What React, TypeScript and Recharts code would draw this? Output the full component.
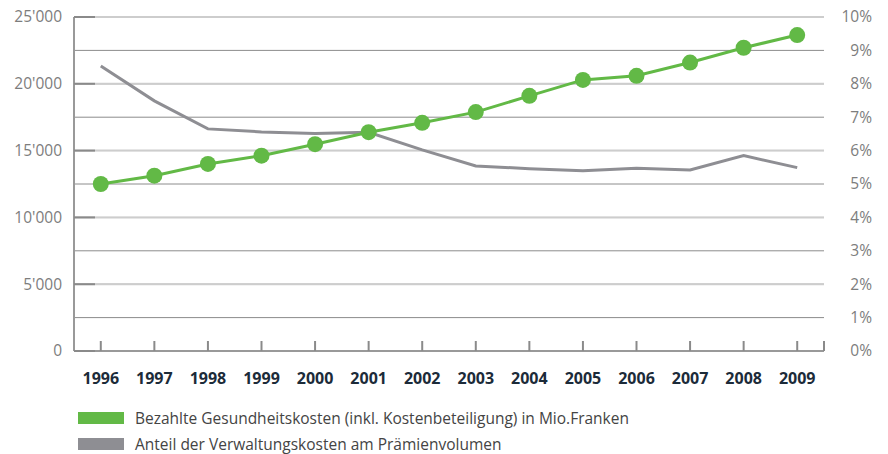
import React from 'react';
import { LineChart, Line, XAxis, YAxis, CartesianGrid } from 'recharts';

const years = ['1996', '1997', '1998', '1999', '2000', '2001', '2002', '2003', '2004', '2005', '2006', '2007', '2008', '2009'];
const healthCosts = [12500, 13120, 14000, 14620, 15480, 16380, 17080, 17880, 19100, 20290, 20600, 21590, 22700, 23650];
const adminShare = [8.53, 7.49, 6.65, 6.56, 6.51, 6.55, 6.02, 5.54, 5.46, 5.40, 5.47, 5.42, 5.85, 5.49];
const leftTicks = [0, 5000, 10000, 15000, 20000, 25000];
const rightTicks = [0, 1, 2, 3, 4, 5, 6, 7, 8, 9, 10];
const legendLabels = [
  'Bezahlte Gesundheitskosten (inkl. Kostenbeteiligung) in Mio.Franken',
  'Anteil der Verwaltungskosten am Prämienvolumen',
];

const GREEN = '#62b946';
const GREY = '#8e8e93';
const FONT = '"Open Sans", "Noto Sans", sans-serif';

const data = years.map((y, i) => ({ year: y, costs: healthCosts[i], share: adminShare[i] }));

const fmtThousands = (v: number) => String(v).replace(/\B(?=(\d{3})+(?!\d))/g, "'");

const LeftTick = (props: any) => {
  const { x, y, payload } = props;
  return (
    <g>
      <line x1={x + 12} x2={x + 33} y1={y} y2={y} stroke="#8a8a8a" strokeWidth={2} />
      <text x={x} y={y} dy="0.35em" textAnchor="end" fill="#7d7d7d" fontSize={15.5} fontFamily={FONT}>
        {fmtThousands(payload.value)}
      </text>
    </g>
  );
};

const RightTick = (props: any) => {
  const { x, y, payload } = props;
  return (
    <text x={x + 48} y={y} dy="0.35em" textAnchor="end" fill="#7d7d7d" fontSize={15.5} fontFamily={FONT}>
      {`${payload.value}%`}
    </text>
  );
};

const XTick = (props: any) => {
  const { x, y, payload } = props;
  const isLast = payload.value === years[years.length - 1];
  const off = payload.offset || 0;
  return (
    <g>
      <line x1={x} x2={x} y1={y} y2={y - 10} stroke="#8a8a8a" strokeWidth={2} />
      {isLast && <line x1={x + off} x2={x + off} y1={y} y2={y - 10} stroke="#8a8a8a" strokeWidth={2} />}
      <text x={x} y={y + 27} dy="0.35em" textAnchor="middle" fill="#1c2b39" fontSize={16} fontWeight={700} fontFamily={FONT}>
        {payload.value}
      </text>
    </g>
  );
};

export default function App() {
  return (
    <div style={{ position: 'absolute', left: 0, top: 0, width: 888, height: 454, background: '#fff' }}>
      <LineChart width={888} height={454} data={data} margin={{ top: 17, right: 0, bottom: 63, left: 0 }}>
        <CartesianGrid yAxisId="right" vertical={false} stroke="#8c8c8c" strokeWidth={1} />
        <CartesianGrid yAxisId="left" vertical={false} stroke="#cdcdcd" strokeWidth={2} />
        <XAxis
          dataKey="year"
          scale="band"
          height={40}
          tickSize={0}
          tickMargin={0}
          tickLine={false}
          axisLine={{ stroke: '#999999', strokeWidth: 2 }}
          tick={<XTick />}
          interval={0}
        />
        <YAxis
          yAxisId="left"
          orientation="left"
          width={74}
          domain={[0, 25000]}
          ticks={leftTicks}
          tickSize={0}
          tickMargin={12}
          tickLine={false}
          axisLine={{ stroke: '#999999', strokeWidth: 2 }}
          tick={<LeftTick />}
          interval={0}
        />
        <YAxis
          yAxisId="right"
          orientation="right"
          width={64}
          domain={[0, 10]}
          ticks={rightTicks}
          tickSize={0}
          tickMargin={0}
          tickLine={false}
          axisLine={false}
          tick={<RightTick />}
          interval={0}
        />
        <Line
          yAxisId="right"
          dataKey="share"
          stroke={GREY}
          strokeWidth={3}
          dot={false}
          isAnimationActive={false}
          type="linear"
        />
        <Line
          yAxisId="left"
          dataKey="costs"
          stroke={GREEN}
          strokeWidth={3}
          dot={{ r: 8, fill: GREEN, stroke: 'none' }}
          isAnimationActive={false}
          type="linear"
        />
      </LineChart>
      <div style={{ position: 'absolute', left: 78, top: 409, fontFamily: FONT, fontSize: 15.5, lineHeight: '18px', color: '#444' }}>
        {legendLabels.map((label, i) => (
          <div key={label} style={{ display: 'flex', alignItems: 'center', height: 18, marginTop: i === 0 ? 0 : 8 }}>
            <span style={{ display: 'inline-block', width: 46, height: 12, background: i === 0 ? GREEN : GREY, marginRight: 11 }} />
            <span>{label}</span>
          </div>
        ))}
      </div>
    </div>
  );
}
